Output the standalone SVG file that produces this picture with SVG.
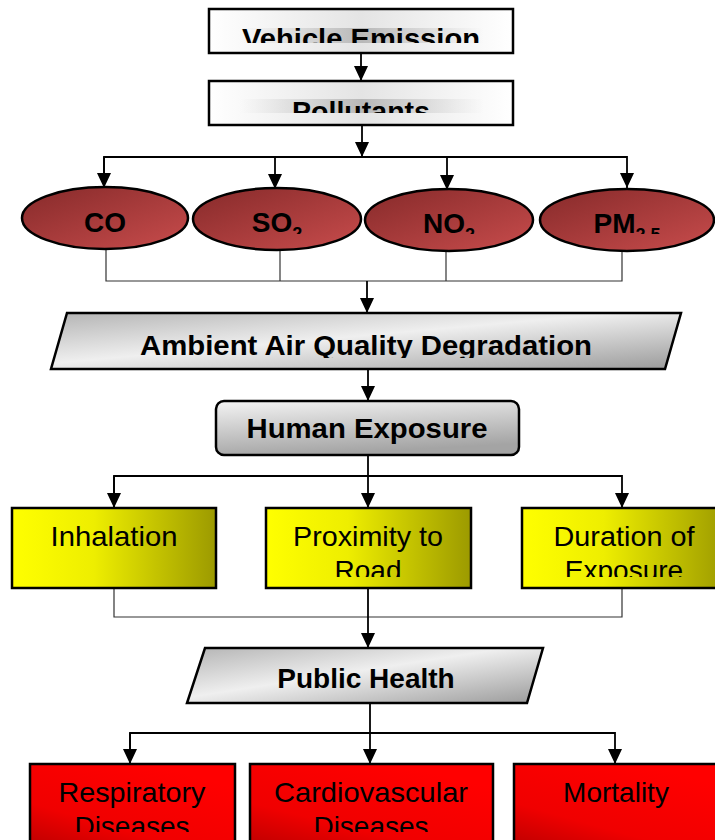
<svg xmlns="http://www.w3.org/2000/svg" width="715" height="840" viewBox="0 0 715 840">
<style>
.box{stroke:#000;stroke-width:2.5}
.conn{stroke:#000;stroke-width:1.8;fill:none}
.br{stroke:#333;stroke-width:1.2;fill:none}
.tb{font-family:"Liberation Sans",Arial,sans-serif;font-weight:bold;font-size:28px;text-anchor:middle;fill:#000}
.tr{font-family:"Liberation Sans",Arial,sans-serif;font-size:28px;text-anchor:middle;fill:#000}
</style>
<defs>
<marker id="ah" markerUnits="userSpaceOnUse" markerWidth="16" markerHeight="14" refX="15" refY="7" orient="auto">
<path d="M0,0 L15,7 L0,14 z" fill="#000"/>
</marker>
<linearGradient id="gWhite" x1="0" y1="0" x2="1" y2="0">
<stop offset="0" stop-color="#ffffff"/><stop offset="0.5" stop-color="#e4e4e4"/><stop offset="1" stop-color="#ffffff"/>
</linearGradient>
<linearGradient id="gBand" x1="0" y1="0" x2="1" y2="0">
<stop offset="0" stop-color="#d0d0d0" stop-opacity="0"/><stop offset="0.5" stop-color="#b8b8b8" stop-opacity="1"/><stop offset="1" stop-color="#d0d0d0" stop-opacity="0"/>
</linearGradient>
<linearGradient id="gEll" x1="0" y1="0" x2="1" y2="1">
<stop offset="0" stop-color="#862a2a"/><stop offset="1" stop-color="#c84c4c"/>
</linearGradient>
<linearGradient id="gPara" x1="0" y1="0" x2="1" y2="1">
<stop offset="0" stop-color="#b4b4b4"/><stop offset="0.45" stop-color="#efefef"/><stop offset="1" stop-color="#9a9a9a"/>
</linearGradient>
<linearGradient id="gHum" x1="0" y1="0" x2="0.3" y2="1">
<stop offset="0" stop-color="#f4f4f4"/><stop offset="1" stop-color="#a4a4a4"/>
</linearGradient>
<linearGradient id="gYel" x1="0" y1="0" x2="1" y2="0">
<stop offset="0" stop-color="#ffff00"/><stop offset="0.4" stop-color="#eeee00"/><stop offset="1" stop-color="#9c9a00"/>
</linearGradient>
<linearGradient id="gRed" x1="0" y1="1" x2="0.6" y2="0">
<stop offset="0" stop-color="#a80000"/><stop offset="0.45" stop-color="#f00000"/><stop offset="1" stop-color="#ff0000"/>
</linearGradient>
<clipPath id="cVE"><rect x="0" y="0" width="715" height="43"/></clipPath>
<clipPath id="cPol"><rect x="0" y="80" width="715" height="33"/></clipPath>
<clipPath id="cEll"><rect x="0" y="190" width="715" height="44"/></clipPath>
<clipPath id="cAmb"><rect x="0" y="315" width="715" height="43"/></clipPath>
<clipPath id="cYel"><rect x="0" y="510" width="715" height="67"/></clipPath>
<clipPath id="cRed"><rect x="0" y="766" width="715" height="66"/></clipPath>
</defs>
<rect width="715" height="840" fill="#fff"/>

<g id="connectors">
<line class="conn" x1="361" y1="53" x2="361" y2="81" marker-end="url(#ah)"/>
<line class="conn" x1="362" y1="125" x2="362" y2="157" marker-end="url(#ah)"/>
<polyline class="conn" points="104,188 104,157 627,157 627,188" marker-end="url(#ah)"/>
<line class="conn" x1="104" y1="157" x2="104" y2="188" marker-end="url(#ah)"/>
<line class="conn" x1="275" y1="157" x2="275" y2="189" marker-end="url(#ah)"/>
<line class="conn" x1="447" y1="157" x2="447" y2="190" marker-end="url(#ah)"/>
<polyline class="br" points="106,249 106,281 622,281 622,250"/>
<line class="br" x1="280" y1="250" x2="280" y2="281"/>
<line class="br" x1="446" y1="250" x2="446" y2="281"/>
<line class="conn" x1="367" y1="281" x2="367" y2="313" marker-end="url(#ah)"/>
<line class="conn" x1="368" y1="369" x2="368" y2="401" marker-end="url(#ah)"/>
<line class="conn" x1="368" y1="455" x2="368" y2="508" marker-end="url(#ah)"/>
<polyline class="conn" points="114,508 114,476 622,476 622,508" marker-end="url(#ah)"/>
<line class="conn" x1="114" y1="476" x2="114" y2="508" marker-end="url(#ah)"/>
<polyline class="br" points="114,588 114,617 622,617 622,588"/>
<line class="conn" x1="368" y1="588" x2="368" y2="648" marker-end="url(#ah)"/>
<line class="conn" x1="370" y1="703" x2="370" y2="764" marker-end="url(#ah)"/>
<polyline class="conn" points="130,764 130,733 615,733 615,764" marker-end="url(#ah)"/>
<line class="conn" x1="130" y1="733" x2="130" y2="764" marker-end="url(#ah)"/>
</g>

<g id="vehicle-emission">
<rect class="box" x="209" y="9" width="304" height="44" fill="url(#gWhite)"/>
<rect x="240" y="28" width="244" height="15" fill="url(#gBand)"/>
<text class="tb" x="361" y="48" font-size="29" textLength="238" lengthAdjust="spacingAndGlyphs" clip-path="url(#cVE)">Vehicle Emission</text>
</g>
<g id="pollutants">
<rect class="box" x="209" y="81" width="304" height="44" fill="url(#gWhite)"/>
<rect x="240" y="99" width="244" height="14" fill="url(#gBand)"/>
<text class="tb" x="361" y="121" font-size="29" textLength="138" lengthAdjust="spacingAndGlyphs" clip-path="url(#cPol)">Pollutants</text>
</g>

<g id="co">
<ellipse class="box" cx="105" cy="218" rx="83" ry="31" fill="url(#gEll)"/>
<text class="tb" x="105" y="232" font-size="27" clip-path="url(#cEll)">CO</text>
</g>
<g id="so2">
<ellipse class="box" cx="277" cy="219" rx="84" ry="31" fill="url(#gEll)"/>
<text class="tb" x="277" y="232" font-size="27" clip-path="url(#cEll)">SO<tspan font-size="18" dy="8">2</tspan></text>
</g>
<g id="no2">
<ellipse class="box" cx="449" cy="220" rx="84" ry="31" fill="url(#gEll)"/>
<text class="tb" x="449" y="233" font-size="27" clip-path="url(#cEll)">NO<tspan font-size="18" dy="8">2</tspan></text>
</g>
<g id="pm25">
<ellipse class="box" cx="627" cy="220" rx="87" ry="31" fill="url(#gEll)"/>
<text class="tb" x="627" y="233" font-size="27" clip-path="url(#cEll)">PM<tspan font-size="18" dy="8">2.5</tspan></text>
</g>

<g id="ambient-air-quality">
<polygon class="box" points="67,313 681,313 665,369 51,369" fill="url(#gPara)"/>
<text class="tb" x="366" y="355" font-size="28" textLength="452" lengthAdjust="spacingAndGlyphs" clip-path="url(#cAmb)">Ambient Air Quality Degradation</text>
</g>

<g id="human-exposure">
<rect class="box" x="216" y="401" width="303" height="54" rx="8" fill="url(#gHum)"/>
<text class="tb" x="367" y="438" font-size="28" textLength="241" lengthAdjust="spacingAndGlyphs">Human Exposure</text>
</g>

<g id="inhalation">
<rect class="box" x="12" y="508" width="204" height="80" fill="url(#gYel)"/>
<text class="tr" x="114" y="546" textLength="127" lengthAdjust="spacingAndGlyphs">Inhalation</text>
</g>
<g id="proximity">
<rect class="box" x="266" y="508" width="205" height="80" fill="url(#gYel)"/>
<text class="tr" x="368" y="546" clip-path="url(#cYel)"><tspan x="368" textLength="150" lengthAdjust="spacingAndGlyphs">Proximity to</tspan><tspan x="368" dy="34">Road</tspan></text>
</g>
<g id="duration">
<rect class="box" x="522" y="508" width="205" height="80" fill="url(#gYel)"/>
<text class="tr" x="624" y="546" clip-path="url(#cYel)"><tspan x="624" textLength="141" lengthAdjust="spacingAndGlyphs">Duration of</tspan><tspan x="624" dy="34">Exposure</tspan></text>
</g>

<g id="public-health">
<polygon class="box" points="205,648 543,648 527,703 187,703" fill="url(#gPara)"/>
<text class="tb" x="366" y="688" font-size="28">Public Health</text>
</g>

<g id="respiratory">
<rect class="box" x="30" y="764" width="205" height="100" fill="url(#gRed)"/>
<text class="tr" x="132" y="802" clip-path="url(#cRed)"><tspan x="132" textLength="147" lengthAdjust="spacingAndGlyphs">Respiratory</tspan><tspan x="132" dy="34">Diseases</tspan></text>
</g>
<g id="cardiovascular">
<rect class="box" x="250" y="764" width="243" height="100" fill="url(#gRed)"/>
<text class="tr" x="371" y="802" clip-path="url(#cRed)"><tspan x="371" textLength="194" lengthAdjust="spacingAndGlyphs">Cardiovascular</tspan><tspan x="371" dy="34">Diseases</tspan></text>
</g>
<g id="mortality">
<rect class="box" x="514" y="764" width="215" height="100" fill="url(#gRed)"/>
<text class="tr" x="616" y="802" clip-path="url(#cRed)">Mortality</text>
</g>
</svg>
